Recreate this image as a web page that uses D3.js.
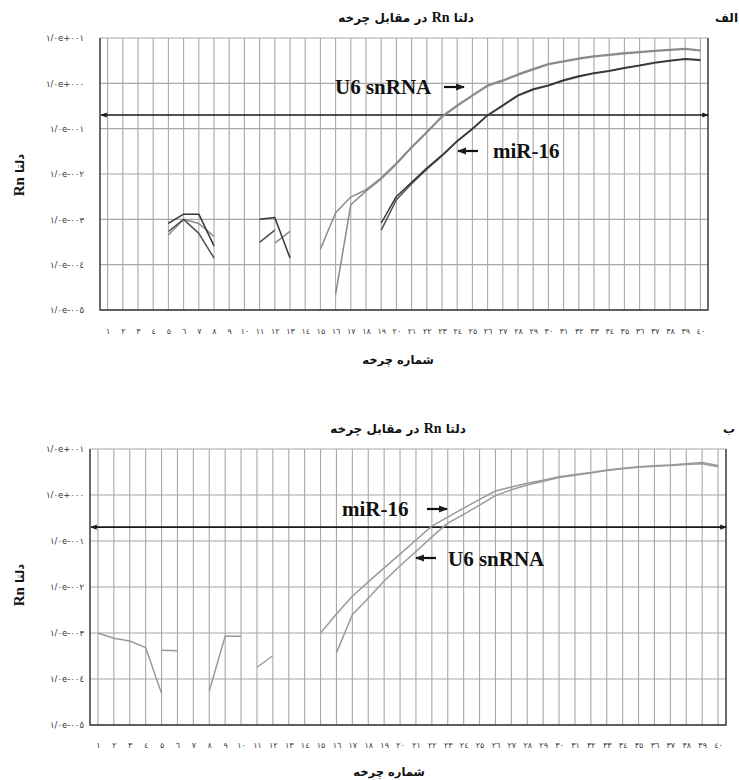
<!DOCTYPE html>
<html>
<head>
<meta charset="utf-8">
<script src="https://cdn.jsdelivr.net/npm/d3@7"></script>
<style>
  body { margin: 0; background: #fff; }
  svg { display: block; }
</style>
</head>
<body>
<div id="chart"></div>
<script>
// cycle numbers (x categories)
const cycles = [1, 2, 3, 4, 5, 6, 7, 8, 9, 10, 11, 12, 13, 14, 15, 16, 17, 18, 19, 20,
  21, 22, 23, 24, 25, 26, 27, 28, 29, 30, 31, 32, 33, 34, 35, 36, 37, 38, 39, 40];

// decades shown on the log y axis and their printed labels
const yTicks = [10, 1, 0.1, 0.01, 0.001, 0.0001, 0.00001];
const yTickLabels = ["١/٠e+٠٠١", "١/٠e+٠٠٠", "١/٠e-٠٠١", "١/٠e-٠٠٢", "١/٠e-٠٠٣", "١/٠e-٠٠٤", "١/٠e-٠٠٥"];

const threshold = 0.2;

// panel الف (top) - delta Rn per cycle, null = not plotted (<= 0)
const topU6a = [null, null, null, null, 4.5e-4, 1.0e-3, 8.1e-4, 4.2e-4, null, null,
  null, null, null, null, 2.2e-4, 1.4e-3, 3.1e-3, 4.5e-3, 8.2e-3, 0.0174,
  0.040, 0.085, 0.19, 0.33, 0.55, 0.91, 1.18, 1.6, 2.1, 2.7,
  3.1, 3.6, 4.0, 4.3, 4.7, 5.0, 5.3, 5.6, 5.9, 5.4];
const topU6b = [null, null, null, null, null, null, null, null, null, null,
  null, 3.0e-4, 5.4e-4, null, null, 2.2e-5, 2.1e-3, 4.2e-3, 7.8e-3, 0.0165,
  0.038, 0.081, 0.18, 0.315, 0.53, 0.87, 1.13, 1.53, 2.0, 2.6,
  3.0, 3.45, 3.85, 4.15, 4.5, 4.8, 5.1, 5.4, 5.65, 5.2];
const topMirA = [null, null, null, null, 8.1e-4, 1.3e-3, 1.3e-3, 2.6e-4, null, null,
  1.0e-3, 1.1e-3, 1.4e-4, null, null, null, null, null, 8.3e-4, 3.2e-3,
  6.6e-3, 0.0135, 0.026, 0.054, 0.10, 0.20, 0.33, 0.55, 0.75, 0.91,
  1.18, 1.45, 1.7, 1.9, 2.2, 2.5, 2.9, 3.2, 3.5, 3.3];
const topMirB = [null, null, null, null, 5.4e-4, 1.0e-3, 4.9e-4, 1.4e-4, null, null,
  3.1e-4, 5.8e-4, null, null, null, null, null, null, 5.8e-4, 2.7e-3,
  6.1e-3, 0.0128, 0.025, 0.052, 0.097, 0.195, 0.32, 0.53, 0.72, 0.88,
  1.14, 1.4, 1.65, 1.85, 2.15, 2.45, 2.8, 3.1, 3.4, 3.2];

// panel ب (bottom)
const botMir = [1.0e-3, 7.7e-4, 6.7e-4, 4.8e-4, 4.9e-5, null, null, 5.5e-5, 8.5e-4, 8.5e-4,
  null, null, null, null, 1.0e-3, 2.6e-3, 6.3e-3, 0.0129, 0.026, 0.052,
  0.105, 0.21, 0.33, 0.52, 0.80, 1.22, 1.49, 1.8, 2.1, 2.5,
  2.8, 3.1, 3.5, 3.8, 4.1, 4.3, 4.5, 4.8, 5.1, 4.4];
const botU6 = [null, null, null, null, 4.2e-4, 4.1e-4, null, null, null, null,
  1.8e-4, 3.2e-4, null, null, null, 3.7e-4, 2.5e-3, 5.7e-3, 0.0135, 0.029,
  0.059, 0.123, 0.245, 0.38, 0.60, 0.97, 1.3, 1.65, 2.0, 2.4,
  2.7, 3.0, 3.4, 3.7, 4.0, 4.2, 4.4, 4.6, 4.8, 4.1];

const arabicDigits = "٠١٢٣٤٥٦٧٨٩";
const toArabic = (n) => String(n).replace(/[0-9]/g, (d) => arabicDigits[+d]);

const width = 739;
const height = 780;

const svg = d3
  .select("#chart")
  .append("svg")
  .attr("width", width)
  .attr("height", height)
  .style("background", "#fff");

const defs = svg.append("defs");
defs.append("marker")
  .attr("id", "arrow")
  .attr("viewBox", "0 0 10 10")
  .attr("refX", 9)
  .attr("refY", 5)
  .attr("markerWidth", 4)
  .attr("markerHeight", 4)
  .attr("orient", "auto-start-reverse")
  .append("path")
  .attr("d", "M0,1 L10,5 L0,9 Z")
  .attr("fill", "#1a1a1a");

const arabicFont = "'DejaVu Sans', sans-serif";
const latinFont = "'Liberation Serif', 'Times New Roman', serif";

function drawPanel(p) {
  const g = svg.append("g");
  const x = d3.scaleLinear().domain([0.5, 40.5]).range([p.left, p.right]);
  const y = d3.scaleLog().domain([1e-5, 10]).range([p.bottom, p.top]);

  // grid
  g.append("g")
    .selectAll("line")
    .data(cycles)
    .join("line")
    .attr("x1", (d) => x(d))
    .attr("x2", (d) => x(d))
    .attr("y1", p.top)
    .attr("y2", p.bottom)
    .attr("stroke", "#a8a8a8")
    .attr("stroke-width", 1.1);

  g.append("g")
    .selectAll("line")
    .data(yTicks)
    .join("line")
    .attr("x1", p.left)
    .attr("x2", p.right)
    .attr("y1", (d) => y(d))
    .attr("y2", (d) => y(d))
    .attr("stroke", "#a8a8a8")
    .attr("stroke-width", 1.1);

  // axes
  const yAxis = g.append("g")
    .attr("transform", `translate(${p.left},0)`)
    .call(
      d3.axisLeft(y)
        .tickValues(yTicks)
        .tickSize(0)
        .tickPadding(p.left - 84)
        .tickFormat((d, i) => "\u202D" + yTickLabels[i] + "\u202C")
    );
  yAxis.select(".domain").remove();
  yAxis.selectAll("text")
    .attr("font-family", arabicFont)
    .attr("font-size", 8.5)
    .attr("fill", "#333");

  const xAxis = g.append("g")
    .attr("transform", `translate(0,${p.bottom})`)
    .call(
      d3.axisBottom(x)
        .tickValues(cycles)
        .tickSize(0)
        .tickPadding(p.xLabelPad)
        .tickFormat(toArabic)
    );
  xAxis.select(".domain").remove();
  xAxis.selectAll("text")
    .attr("font-family", arabicFont)
    .attr("font-size", 8)
    .attr("fill", "#333");

  g.append("path")
    .attr("d", `M${p.left},${p.top}V${p.bottom}H${p.right}V${p.top}`)
    .attr("fill", "none")
    .attr("stroke", "#3a3a3a")
    .attr("stroke-width", 1.5);

  // threshold line
  g.append("line")
    .attr("x1", p.left + 1)
    .attr("x2", p.right)
    .attr("y1", y(threshold))
    .attr("y2", y(threshold))
    .attr("stroke", "#1a1a1a")
    .attr("stroke-width", 1.6)
    .attr("marker-start", "url(#arrow)")
    .attr("marker-end", "url(#arrow)");

  // amplification curves
  const line = d3.line()
    .defined((d) => d.v != null)
    .x((d) => x(d.c))
    .y((d) => y(d.v));

  g.append("g")
    .selectAll("path")
    .data(p.series)
    .join("path")
    .attr("d", (s) => line(s.values.map((v, i) => ({ c: cycles[i], v }))))
    .attr("fill", "none")
    .attr("stroke", (s) => s.color)
    .attr("stroke-width", 1.5)
    .attr("stroke-linejoin", "round");

  // title
  const title = g.append("text")
    .attr("x", p.titleX)
    .attr("y", p.titleY)
    .attr("direction", "rtl")
    .attr("text-anchor", "middle")
    .attr("font-family", arabicFont)
    .attr("font-size", 12)
    .attr("font-weight", "bold")
    .attr("fill", "#111");
  title.append("tspan").text("دلتا ");
  title.append("tspan").attr("font-family", latinFont).attr("font-size", 14).text("Rn");
  title.append("tspan").text(" در مقابل چرخه");

  g.append("text")
    .attr("x", p.letterX)
    .attr("y", p.titleY)
    .attr("direction", "rtl")
    .attr("text-anchor", "start")
    .attr("font-family", arabicFont)
    .attr("font-size", 12)
    .attr("font-weight", "bold")
    .attr("fill", "#111")
    .text(p.letter);

  // y title
  const yt = g.append("text")
    .attr("transform", `translate(24,${p.yTitleY}) rotate(-90)`)
    .attr("direction", "rtl")
    .attr("text-anchor", "middle")
    .attr("font-family", arabicFont)
    .attr("font-size", 11.5)
    .attr("font-weight", "bold")
    .attr("fill", "#111");
  yt.append("tspan").text("دلتا ");
  yt.append("tspan").attr("font-family", latinFont).attr("font-size", 15).text("Rn");

  // x title
  g.append("text")
    .attr("x", p.xTitleX)
    .attr("y", p.xTitleY)
    .attr("direction", "rtl")
    .attr("text-anchor", "middle")
    .attr("font-family", arabicFont)
    .attr("font-size", 11.5)
    .attr("font-weight", "bold")
    .attr("fill", "#111")
    .text("شماره چرخه");

  // curve annotations
  p.notes.forEach((n) => {
    g.append("text")
      .attr("x", n.x)
      .attr("y", n.y)
      .attr("font-family", latinFont)
      .attr("font-size", 21)
      .attr("font-weight", "bold")
      .attr("fill", "#111")
      .text(n.text);
    g.append("line")
      .attr("x1", n.ax1)
      .attr("x2", n.ax2)
      .attr("y1", n.ay)
      .attr("y2", n.ay)
      .attr("stroke", "#111")
      .attr("stroke-width", 2.2)
      .attr("marker-end", "url(#arrow)");
  });
}

drawPanel({
  left: 100, right: 708, top: 38, bottom: 310,
  xLabelPad: 18,
  titleX: 406, titleY: 22, letterX: 738, letter: "الف",
  yTitleY: 175, xTitleX: 398, xTitleY: 364,
  series: [
    { values: topU6a, color: "#8c8c8c" },
    { values: topU6b, color: "#8a8a8a" },
    { values: topMirB, color: "#505050" },
    { values: topMirA, color: "#363636" },
  ],
  notes: [
    { text: "U6 snRNA", x: 335, y: 94, ax1: 444, ax2: 464, ay: 87 },
    { text: "miR-16", x: 493, y: 158, ax1: 478, ax2: 458, ay: 151 },
  ],
});

drawPanel({
  left: 90, right: 726, top: 449, bottom: 725,
  xLabelPad: 17,
  titleX: 398, titleY: 433, letterX: 735, letter: "ب",
  yTitleY: 585, xTitleX: 389, xTitleY: 776,
  series: [
    { values: botU6, color: "#9a9a9a" },
    { values: botMir, color: "#9a9a9a" },
  ],
  notes: [
    { text: "miR-16", x: 342, y: 516, ax1: 427, ax2: 447, ay: 509 },
    { text: "U6 snRNA", x: 448, y: 566, ax1: 436, ax2: 416, ay: 558 },
  ],
});
</script>
</body>
</html>
